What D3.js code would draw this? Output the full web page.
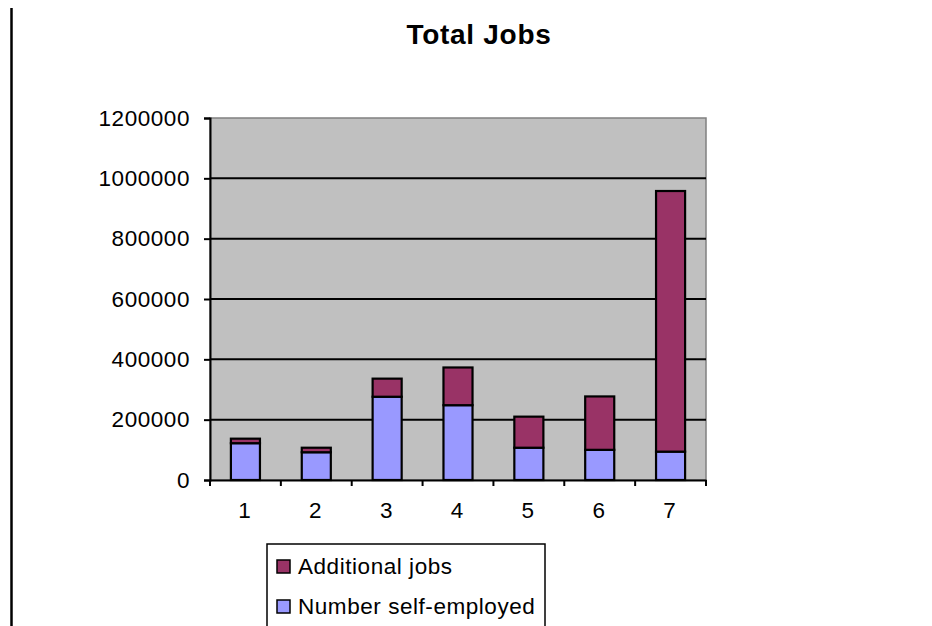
<!DOCTYPE html>
<html><head><meta charset="utf-8">
<script src="https://cdn.jsdelivr.net/npm/d3@7"></script>
<style>
html,body{margin:0;padding:0;background:#fff;}
svg{display:block;font-family:Arial,"Liberation Sans",sans-serif;}
</style></head>
<body>
<svg id="chart" width="932" height="626"></svg>
<script>
const title = "Total Jobs";
const categories = ["1","2","3","4","5","6","7"];
const seriesNames = ["Number self-employed","Additional jobs"];
const selfEmployed = [122000, 92000, 276000, 248000, 107000, 100000, 94000];
const additionalJobs = [15000, 15000, 60000, 125000, 103000, 177000, 864000];
const yTicks = [0,200000,400000,600000,800000,1000000,1200000];
const colors = {"Number self-employed":"#9999FF","Additional jobs":"#993366"};

const svg = d3.select("#chart");
const plot = {left:210, right:706, top:118, bottom:480};
const FONT = "Arial, 'Liberation Sans', sans-serif";

// left border line
svg.append("line").attr("x1",11.5).attr("x2",11.5).attr("y1",8).attr("y2",626)
  .attr("stroke","#000").attr("stroke-width",2.5);

svg.append("text").attr("x",479).attr("y",44).attr("text-anchor","middle")
  .attr("font-size",28).attr("font-weight","bold").attr("letter-spacing","0.7px").text(title);

const x = d3.scaleBand().domain(categories).range([plot.left, plot.right]).paddingInner(0.59).paddingOuter(0.295);
const y = d3.scaleLinear().domain([0,1200000]).range([plot.bottom, plot.top]);

// plot area background
svg.append("rect").attr("x",plot.left).attr("y",plot.top)
  .attr("width",plot.right-plot.left).attr("height",plot.bottom-plot.top)
  .attr("fill","#C0C0C0").attr("stroke","#808080").attr("stroke-width",1.5);

// gridlines
svg.append("g").selectAll("line").data(yTicks.filter(d=>d>0 && d<1200000)).join("line")
  .attr("x1",plot.left).attr("x2",plot.right)
  .attr("y1",d=>y(d)).attr("y2",d=>y(d))
  .attr("stroke","#000").attr("stroke-width",2);

// stacked data
const rows = categories.map((c,i)=>({cat:c,"Number self-employed":selfEmployed[i],"Additional jobs":additionalJobs[i]}));
const stack = d3.stack().keys(seriesNames)(rows);

svg.append("g").selectAll("g").data(stack).join("g")
  .attr("fill",d=>colors[d.key])
  .selectAll("rect").data(d=>d).join("rect")
  .attr("x",d=>x(d.data.cat))
  .attr("width",x.bandwidth())
  .attr("y",d=>y(d[1]))
  .attr("height",d=>y(d[0])-y(d[1]))
  .attr("stroke","#000").attr("stroke-width",2.2);

// y axis
const yAxis = d3.axisLeft(y).tickValues(yTicks).tickSize(6).tickPadding(14).tickFormat(d3.format("d"));
const gy = svg.append("g").attr("transform",`translate(${plot.left},0)`).call(yAxis);
gy.select(".domain").attr("stroke","#000").attr("stroke-width",2);
gy.selectAll(".tick line").attr("stroke","#000").attr("stroke-width",2);
gy.selectAll("text").attr("font-size",22.5).attr("fill","#000").attr("font-family",FONT).attr("letter-spacing","0.55px");

// x axis
const xAxis = d3.axisBottom(x).tickSize(0).tickPadding(22);
const gx = svg.append("g").attr("transform",`translate(0,${plot.bottom})`).call(xAxis);
gx.select(".domain").attr("stroke","#000").attr("stroke-width",2);
gx.selectAll("text").attr("font-size",22.5).attr("fill","#000").attr("font-family",FONT).attr("dx","-1");
// category boundary ticks
const bounds = d3.range(categories.length+1).map(i=>plot.left + i*(plot.right-plot.left)/categories.length);
gx.append("g").selectAll("line").data(bounds).join("line")
  .attr("x1",d=>d).attr("x2",d=>d).attr("y1",0).attr("y2",6)
  .attr("stroke","#000").attr("stroke-width",2);

// legend
const lg = svg.append("g");
lg.append("rect").attr("x",267).attr("y",544).attr("width",278).attr("height",100)
  .attr("fill","#fff").attr("stroke","#000").attr("stroke-width",1.5);
const legendItems = ["Additional jobs","Number self-employed"];
legendItems.forEach((name,i)=>{
  const yy = 560 + i*40;
  lg.append("rect").attr("x",277).attr("y",yy).attr("width",13).attr("height",13)
    .attr("fill",colors[name]).attr("stroke","#000").attr("stroke-width",1.5);
  lg.append("text").attr("x",298).attr("y",yy+13.5).attr("font-size",22.5).attr("fill","#000")
    .attr("letter-spacing","0.55px").text(name);
});
</script>
</body></html>
